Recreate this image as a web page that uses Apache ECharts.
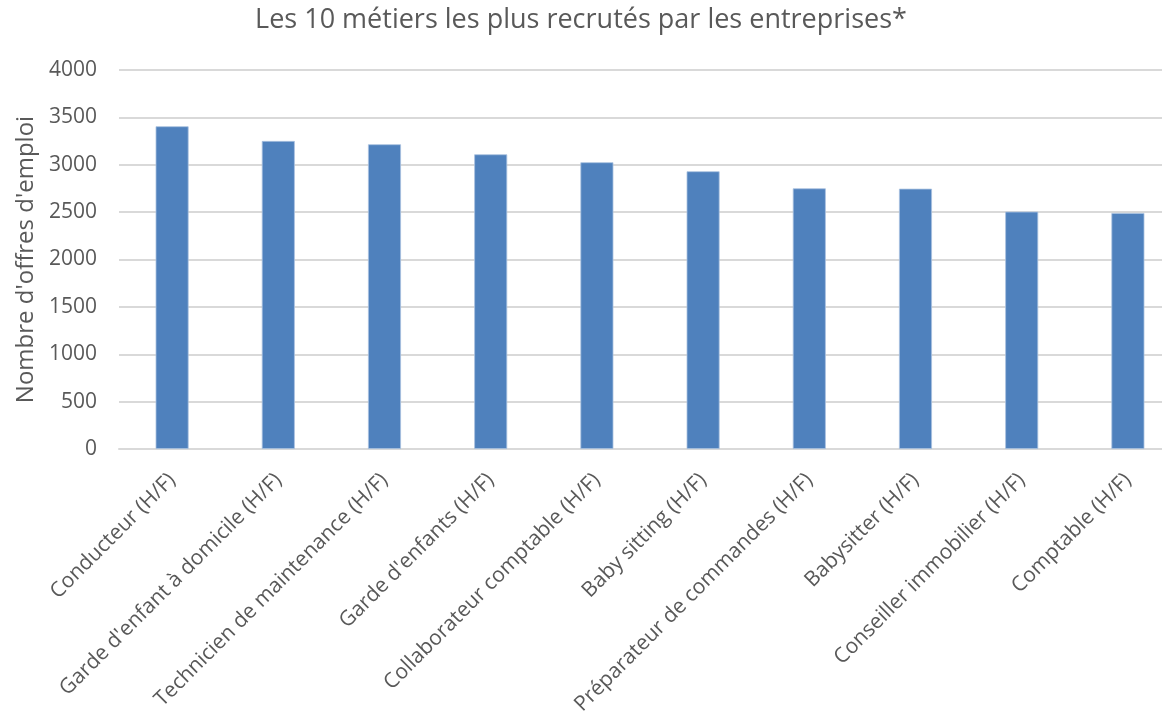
<!DOCTYPE html>
<html>
<head>
<meta charset="utf-8">
<script src="https://cdn.jsdelivr.net/npm/echarts@6/dist/echarts.min.js"></script>
<style>
html,body{margin:0;padding:0;background:#fff;}
#chart{width:1162px;height:716px;}
</style>
</head>
<body>
<div id="chart"></div>
<script>
const titleText = "Les 10 métiers les plus recrutés par les entreprises*";
const yAxisName = "Nombre d'offres d'emploi";
const categories = [
  "Conducteur (H/F)",
  "Garde d'enfant à domicile (H/F)",
  "Technicien de maintenance (H/F)",
  "Garde d'enfants (H/F)",
  "Collaborateur comptable (H/F)",
  "Baby sitting (H/F)",
  "Préparateur de commandes (H/F)",
  "Babysitter (H/F)",
  "Conseiller immobilier (H/F)",
  "Comptable (H/F)"
];
const values = [3406, 3251, 3216, 3110, 3026, 2931, 2751, 2747, 2505, 2491];
const yMin = 0, yMax = 4000, yStep = 500;

const font = "'Open Sans', 'Liberation Sans', sans-serif";
const chart = echarts.init(document.getElementById('chart'), null, {renderer: 'canvas'});
chart.setOption({
  animation: false,
  title: {
    text: titleText,
    left: 'center',
    top: 2,
    textStyle: {fontFamily: font, fontSize: 27, fontWeight: 'normal', color: '#595959'}
  },
  grid: {left: 119, top: 70, width: 1062, height: 379, containLabel: false, outerBoundsMode: 'none'},
  xAxis: {
    type: 'category',
    data: categories,
    axisLine: {show: true, lineStyle: {color: '#d9d9d9', width: 2}},
    axisTick: {show: false},
    axisLabel: {rotate: 45, interval: 0, margin: 28, fontFamily: font, fontSize: 21, color: '#595959'}
  },
  yAxis: {
    type: 'value',
    min: yMin, max: yMax, interval: yStep,
    name: yAxisName,
    nameLocation: 'middle',
    nameGap: 81,
    nameRotate: 90,
    nameTextStyle: {fontFamily: font, fontSize: 24, color: '#595959'},
    axisLine: {show: false},
    axisTick: {show: false},
    axisLabel: {margin: 22, fontFamily: font, fontSize: 21, color: '#595959', formatter: v => String(v)},
    splitLine: {lineStyle: {color: '#d9d9d9', width: 2}}
  },
  series: [{
    type: 'bar',
    data: values,
    barWidth: 33,
    itemStyle: {color: '#4f81bd', borderColor: '#a9c1e0', borderWidth: 0.8}
  }]
});
</script>
</body>
</html>
